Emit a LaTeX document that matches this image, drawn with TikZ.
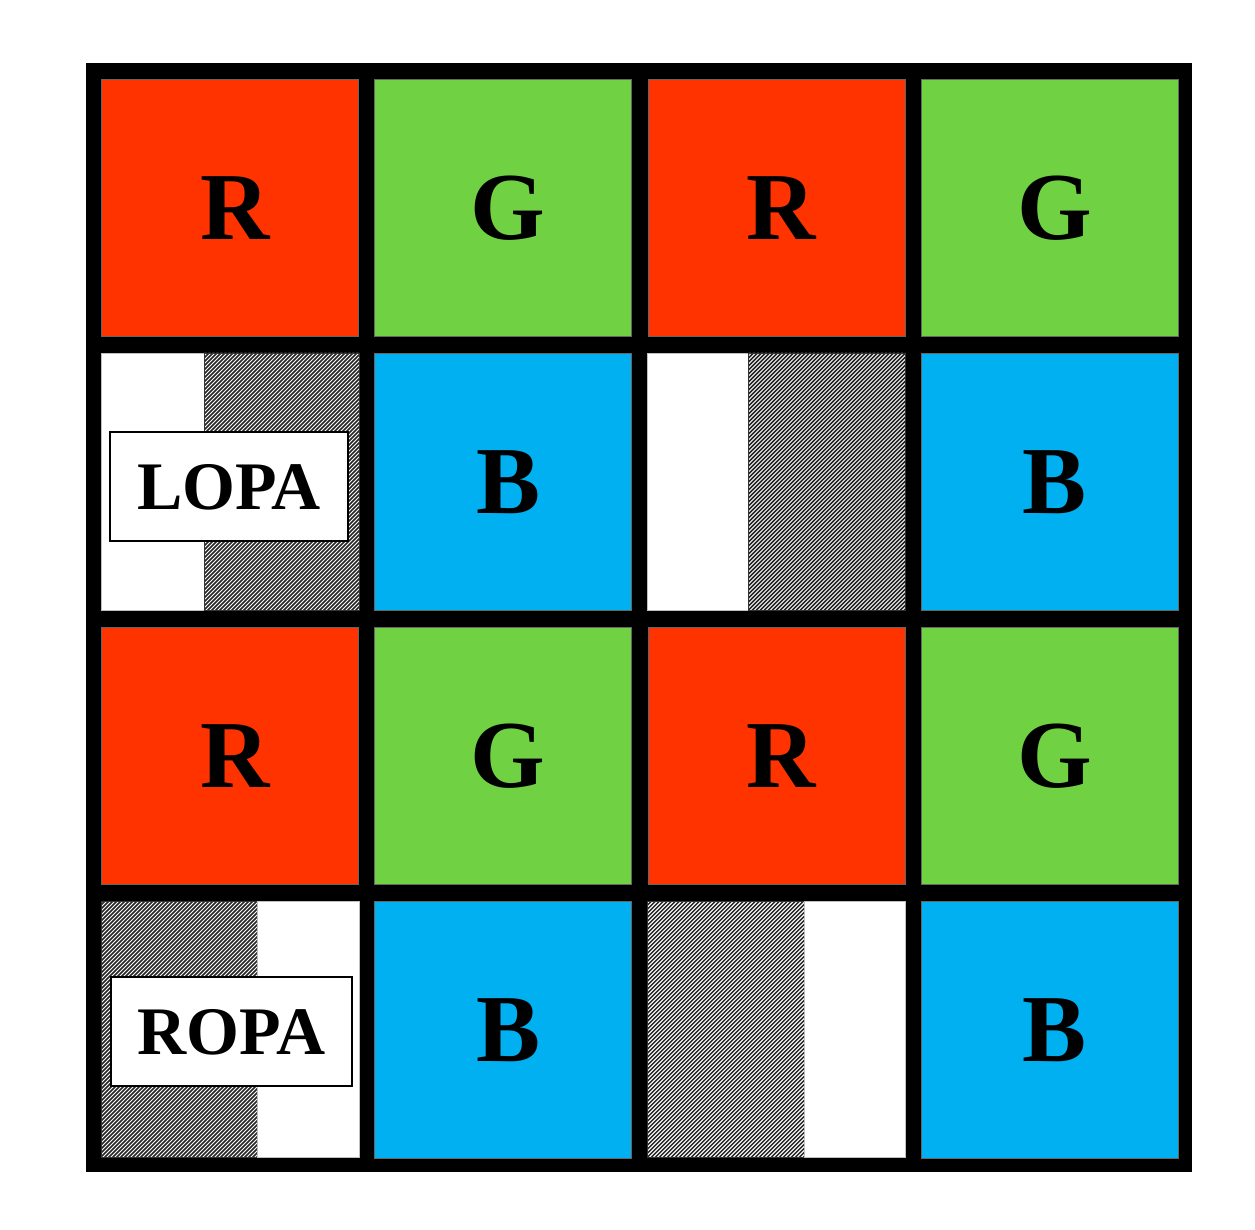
\documentclass[tikz,border=0pt]{standalone}
\usepackage{fontspec}
\setmainfont{Liberation Serif}
\definecolor{cred}{RGB}{255,51,0}
\definecolor{cgreen}{RGB}{112,209,67}
\definecolor{cblue}{RGB}{0,176,240}
\newcommand{\hatchbox}[4]{%
  \begin{scope}
    \clip (#1,#2) rectangle (#3,#4);
    \fill[white] (#1,#2) rectangle (#3,#4);
    \foreach \k in {-264,-260,...,164}
      \draw[hatchline] (#1+\k,#4+4) -- ++(270,-270);
  \end{scope}
  \draw[black!80, line width=0.4pt] (#1,#2) rectangle (#3,#4);}
\begin{document}
\begin{tikzpicture}[x=0.5pt,y=-0.5pt,
  cell/.style={draw=black!60, line width=0.3pt, minimum width=128.5pt, minimum height=128.5pt,
    inner sep=0pt, anchor=north west, text depth=0pt, font=\fontsize{48}{48}\selectfont\bfseries,
    execute at begin node=\hspace*{5pt}},
  whitepart/.style={fill=white, draw=black!25, line width=0.3pt},
  hatchline/.style={black!85, line width=0.72pt},
  tagbox/.style={draw=black, line width=1pt, fill=white, inner sep=0pt, minimum height=54.5pt,
    text depth=0pt, font=\fontsize{34}{34}\selectfont\bfseries}]
\useasboundingbox (0,0) rectangle (1255,1230);
\fill[black] (86,63) rectangle (1192,1172);
% row 1
\node[cell, fill=cred]   (c11) at (101,79)   {R};
\node[cell, fill=cgreen] (c12) at (374.3,79) {G};
\node[cell, fill=cred]   (c13) at (647.7,79) {R};
\node[cell, fill=cgreen] (c14) at (921,79)   {G};
% row 2
\path[whitepart] (101,353) rectangle (204,610);
\hatchbox{204}{353}{359.5}{610}
\node[cell, fill=cblue]  (c22) at (374.3,353) {B};
\path[whitepart] (647.7,353) rectangle (748.5,610);
\hatchbox{748.5}{353}{905.5}{610}
\node[cell, fill=cblue]  (c24) at (921,353)   {B};
% row 3
\node[cell, fill=cred]   (c31) at (101,627)   {R};
\node[cell, fill=cgreen] (c32) at (374.3,627) {G};
\node[cell, fill=cred]   (c33) at (647.7,627) {R};
\node[cell, fill=cgreen] (c34) at (921,627)   {G};
% row 4
\hatchbox{101}{901}{257.5}{1157}
\path[whitepart] (257.5,901) rectangle (359.5,1157);
\node[cell, fill=cblue]  (c42) at (374.3,901) {B};
\hatchbox{647.7}{901}{804}{1157}
\path[whitepart] (804,901) rectangle (905.5,1157);
\node[cell, fill=cblue]  (c44) at (921,901)   {B};
% labels
\node[tagbox, minimum width=119pt] (lopa) at (229,486.5) {LOPA};
\node[tagbox, minimum width=120.5pt] (ropa) at (231.5,1031.5) {ROPA};
\end{tikzpicture}
\end{document}
